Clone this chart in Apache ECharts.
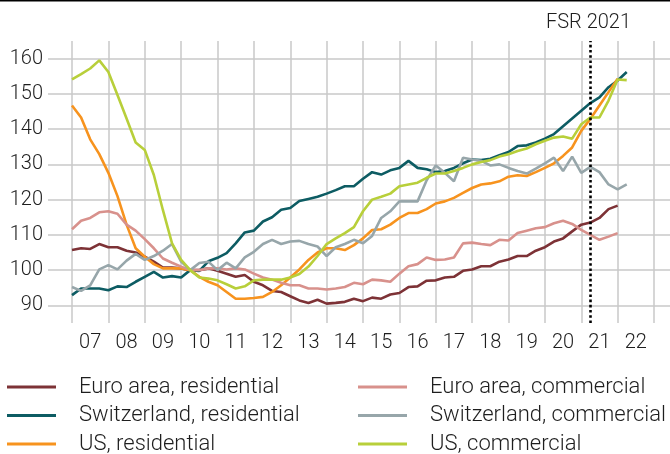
<!DOCTYPE html>
<html>
<head>
<meta charset="utf-8">
<script src="https://cdn.jsdelivr.net/npm/echarts@6/dist/echarts.min.js"></script>
<style>
  html, body { margin: 0; padding: 0; background: #fff; }
  #chart { width: 670px; height: 454px; }
</style>
</head>
<body>
<div id="chart"></div>
<script>
// quarterly index, 2010 Q2 = 100, first point at start of 2007
var firstYear = 2007;
var yearLabels = ['07','08','09','10','11','12','13','14','15','16','17','18','19','20','21','22'];
var fsrMark = 2021.25;

var euroRes = [105.7,106.2,106.0,107.4,106.5,106.5,105.5,105.0,103.8,102.4,100.7,100.7,100.5,100.0,100.0,100.5,
  99.8,99.0,98.1,98.6,96.7,95.7,94.1,93.8,92.6,91.4,90.7,91.6,90.5,90.7,91.0,91.9,
  91.2,92.2,91.9,93.1,93.5,95.2,95.4,97.0,97.1,97.9,98.1,99.8,100.2,101.1,101.1,102.4,
  103.0,104.0,104.0,105.5,106.5,108.1,109.0,111.0,112.9,113.5,114.8,117.3,118.3];
var euroCom = [111.6,114.0,114.8,116.4,116.7,116.0,112.9,111.2,108.8,106.2,103.3,102.1,101.0,100.0,100.0,100.5,
  100.5,100.2,100.5,100.2,99.0,97.9,97.3,96.4,95.7,95.7,94.8,94.8,94.5,94.8,95.2,96.4,
  96.0,97.3,97.1,96.7,99.0,101.1,101.7,103.6,102.9,103.0,103.6,107.6,107.8,107.4,107.1,108.6,
  108.4,110.5,111.2,111.9,112.2,113.3,114.0,113.1,111.4,110.0,108.6,109.5,110.5];
var swissRes = [92.9,94.8,94.8,94.8,94.3,95.4,95.2,96.7,98.1,99.5,97.9,98.3,97.9,100.0,99.8,102.5,
  103.5,104.8,107.6,110.7,111.2,113.8,115.0,117.1,117.6,119.6,120.2,120.8,121.7,122.7,123.8,123.8,
  125.9,127.8,127.1,128.3,129.0,131.0,129.0,128.6,127.8,128.1,129.0,130.3,131.4,131.2,131.6,132.6,
  133.5,135.2,135.4,136.2,137.3,138.6,140.8,143.0,145.2,147.4,149.0,151.9,153.8,156.2];
var swissCom = [95.2,94.1,95.7,100.2,101.4,100.2,102.7,104.6,102.9,104.0,105.5,107.4,102.4,100.0,102.0,102.4,
  100.0,102.1,100.5,103.6,105.2,107.4,108.6,107.4,108.1,108.3,107.4,106.7,104.0,106.5,107.4,108.6,
  107.6,109.7,114.8,116.7,119.5,119.5,119.5,125.5,129.7,127.6,125.2,131.9,131.4,131.0,129.7,130.0,
  129.0,128.1,127.4,128.8,130.3,131.9,128.1,132.2,127.6,129.3,127.8,124.3,122.9,124.3];
var usRes = [146.7,143.3,137.1,132.9,127.6,121.0,112.9,106.2,103.8,101.7,100.5,100.5,100.5,100.0,98.1,96.7,
  95.7,93.8,91.9,91.9,92.1,92.4,93.8,95.7,97.9,100.2,102.9,105.0,106.2,106.2,105.7,107.1,
  109.0,111.4,111.6,112.9,114.8,116.2,116.2,117.3,118.9,119.5,120.5,121.9,123.3,124.3,124.6,125.2,
  126.5,126.9,126.7,127.8,129.0,130.3,132.4,134.8,139.5,142.9,146.7,150.5,154.3];
var usCom = [154.1,155.6,157.2,159.5,156.2,149.7,143.0,136.2,134.1,127.0,117.0,107.6,102.9,100.0,97.9,97.6,
  97.1,96.0,94.8,95.4,97.1,97.3,97.3,97.3,97.9,98.9,101.0,104.0,107.4,109.0,110.5,112.2,
  116.7,120.0,120.8,121.7,123.8,124.3,124.8,126.2,127.4,127.4,128.1,129.0,130.0,130.7,131.2,132.2,
  132.9,133.8,134.5,135.7,136.7,137.6,137.9,137.3,141.4,143.3,143.3,148.1,154.1,153.9];

var names = ['Euro area, residential','Switzerland, residential','US, residential',
             'Euro area, commercial','Switzerland, commercial','US, commercial'];
var colors = ['#7d3236','#0d5c63','#f7931e','#d8918c','#97a6aa','#b8cf3a'];
var values = [euroRes, swissRes, usRes, euroCom, swissCom, usCom];

var font = 'Roboto';
var textColor = '#1e1e1e';

function toPoints(arr) {
  return arr.map(function (v, i) { return [firstYear + i / 4, v]; });
}

var myChart = echarts.init(document.getElementById('chart'));

var series = values.map(function (arr, k) {
  return {
    name: names[k],
    type: 'line',
    xAxisIndex: 1,
    yAxisIndex: 1,
    data: toPoints(arr),
    showSymbol: false,
    symbol: 'none',
    lineStyle: { width: 2.6, color: colors[k] },
    itemStyle: { color: colors[k] },
    z: 3
  };
});
// dotted marker for the FSR 2021 date
series[0].markLine = {
  silent: true,
  symbol: 'none',
  label: { show: false },
  lineStyle: { color: '#000', width: 2.6, type: [2.6, 2.6] },
  data: [{ xAxis: fsrMark }]
};

// one legend per entry: residential in the left column, commercial in the right
var legendRows = [385, 413.5, 442];
var legends = names.map(function (n, k) {
  return {
    data: [n], left: k < 3 ? 7 : 358, top: legendRows[k % 3] - 9, padding: 0,
    icon: 'rect', itemWidth: 49, itemHeight: 3,
    textStyle: { fontFamily: font, fontWeight: 300, fontSize: 22, color: textColor, padding: [0, 0, 0, 18] },
    selectedMode: false
  };
});

var option = {
  animation: false,
  backgroundColor: '#fff',
  grid: [
    { left: 48, right: 0, top: 41, bottom: 131 },
    { left: 72, right: 16, top: 41, bottom: 131 }
  ],
  xAxis: [
    { gridIndex: 0, type: 'value', min: 0, max: 1, show: false },
    {
      gridIndex: 1, type: 'value', min: firstYear, max: firstYear + yearLabels.length, interval: 1,
      axisLine: { show: false }, axisTick: { show: false }, axisLabel: { show: false },
      splitLine: { show: true, lineStyle: { color: '#c8c8c8', width: 1.5 } }
    },
    {
      gridIndex: 1, type: 'category', data: yearLabels, boundaryGap: true, position: 'bottom',
      axisLine: { show: false }, axisTick: { show: false }, splitLine: { show: false },
      axisLabel: { fontFamily: font, fontWeight: 300, fontSize: 20, color: textColor, margin: 10 }
    }
  ],
  yAxis: [
    {
      gridIndex: 0, type: 'value', min: 85, max: 165, interval: 5,
      axisLine: { show: false }, axisTick: { show: false },
      axisLabel: {
        fontFamily: font, fontWeight: 300, fontSize: 20, color: textColor, margin: 5,
        formatter: function (v) { return (v % 10 === 0 && v > 85 && v < 165) ? String(v) : ''; }
      },
      splitLine: { show: true, lineStyle: { color: ['rgba(0,0,0,0)', '#c8c8c8'], width: 1.5 } }
    },
    { gridIndex: 1, type: 'value', min: 85, max: 165, show: false }
  ],
  legend: legends,
  graphic: [
    { type: 'rect', left: 0, top: 0, shape: { width: 670, height: 1.5 }, style: { fill: '#000' } },
    {
      type: 'text', x: 588.5, y: 22.5,
      style: { text: 'FSR 2021', fontFamily: font, fontWeight: 300, fontSize: 20, fill: textColor, align: 'center', verticalAlign: 'middle' }
    }
  ],
  series: series
};

myChart.setOption(option);
</script>
</body>
</html>
